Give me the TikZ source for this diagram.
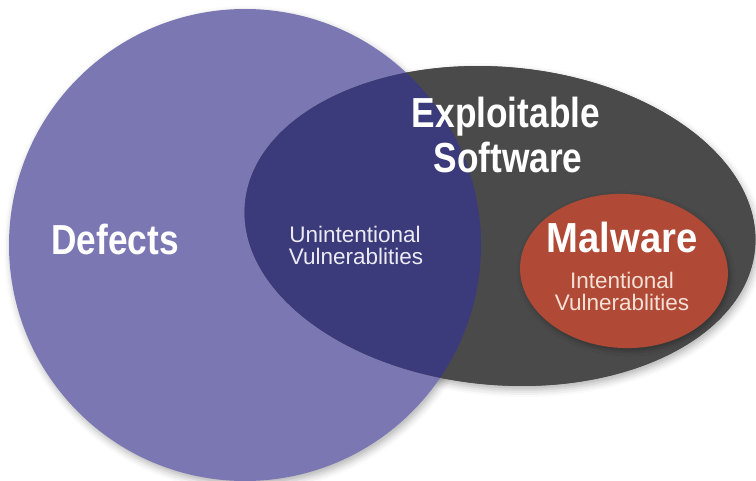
\documentclass[tikz,border=0pt]{standalone}
\usepackage{fontspec}
\setmainfont{Liberation Sans}
\newfontfamily\headfont[FakeStretch=0.84]{Liberation Sans}
\newfontfamily\headwidefont[FakeStretch=0.91]{Liberation Sans}
\usetikzlibrary{shadows.blur}

\definecolor{defectsfill}{HTML}{7A77B3}
\definecolor{overlapfill}{HTML}{3B3A7B}
\definecolor{softwarefill}{HTML}{4A4A4A}
\definecolor{malwarefill}{HTML}{B04A36}
\definecolor{notelight}{HTML}{ECEBF4}
\definecolor{notewarm}{HTML}{F4E0D6}

\begin{document}
\begin{tikzpicture}[x=1pt,y=1pt,
  title/.style={font=\headfont\bfseries\fontsize{42}{45}\selectfont,
                text=white, inner sep=0pt, anchor=base},
  note/.style={font=\fontsize{22.5}{21}\selectfont, inner sep=0pt, anchor=base},
  softshadow/.style={blur shadow={shadow xshift=2pt, shadow yshift=-4pt,
                     shadow blur radius=7pt, shadow opacity=30}},
  swtransform/.style={rotate around={-5:(500,254)}},
  mwtransform/.style={rotate around={-3:(624,209)}}]
\useasboundingbox (0,0) rectangle (756,480);

% shadows of the two large sets
\fill[softwarefill, softshadow, swtransform] (500,254) ellipse [x radius=256, y radius=159];
\fill[defectsfill, softshadow] (245,235) circle [radius=236];

% exploitable software set, drawn over the circle
\fill[softwarefill, swtransform] (500,254) ellipse [x radius=256, y radius=159];

% overlap of defects and exploitable software
\begin{scope}
  \clip (245,235) circle [radius=236];
  \fill[overlapfill, swtransform] (500,254) ellipse [x radius=256, y radius=159];
\end{scope}

% malware set
\fill[malwarefill, mwtransform,
      blur shadow={shadow xshift=2pt, shadow yshift=-3pt, shadow blur radius=5pt, shadow opacity=30}]
  (624,209) ellipse [x radius=104, y radius=77];

% labels
\node[title] (defects) at (115,225) {Defects};

\node[title] (exploit) at (506,352) {Exploitable};
\node[title] (software) at (508,307) {Software};

\node[title, font=\headwidefont\bfseries\fontsize{42}{45}\selectfont] (malware) at (622,227) {Malware};

\node[note, text=notelight] (unint) at (355,237) {Unintentional};
\node[note, text=notelight] (unvuln) at (356,215) {Vulnerablities};

\node[note, text=notewarm] (intent) at (622,191) {Intentional};
\node[note, text=notewarm] (invuln) at (622,169) {Vulnerablities};
\end{tikzpicture}
\end{document}
